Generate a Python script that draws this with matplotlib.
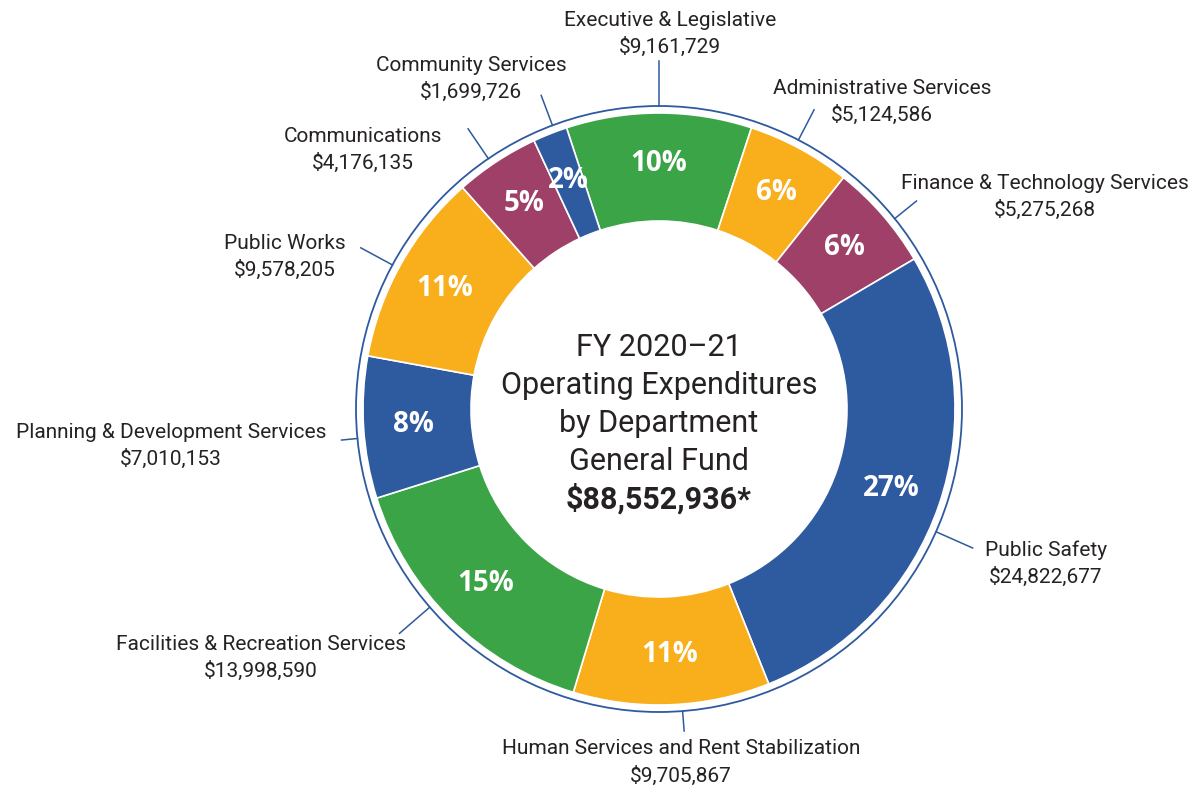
import numpy as np
import matplotlib.pyplot as plt
from matplotlib.patches import Circle

# departments in clockwise order starting at the top
departments = ['Executive & Legislative', 'Administrative Services',
               'Finance & Technology Services', 'Public Safety',
               'Human Services and Rent Stabilization',
               'Facilities & Recreation Services',
               'Planning & Development Services', 'Public Works',
               'Communications', 'Community Services']
amounts = [9161729, 5124586, 5275268, 24822677, 9705867,
           13998590, 7010153, 9578205, 4176135, 1699726]
colors = ['#3AA447', '#F9AF1B', '#9E4068', '#2E5A9F', '#F9AF1B',
          '#3AA447', '#2E5A9F', '#F9AF1B', '#9E4068', '#2E5A9F']
center_lines = ['FY 2020\u201321', 'Operating Expenditures', 'by Department',
                'General Fund']
total_label = '$88,552,936*'

# layout (pixels, y measured from top)
W, H = 1201, 789
cx, cy = 659, 409
r_out, r_in, r_ring = 296, 188, 303
label_xy = [(670, 20), (882, 88), (1045, 183), (1046, 550), (681, 749),
            (261, 644), (171, 432), (285, 243), (363, 136), (471, 65)]
leader_len = [45, 34, 28, 40, 20, 40, 16, 36, 36, 32]
leader_shift = [0, 1, -2, -5, 2, -4.5, 2, 1, 1, -1]  # degrees, ccw

blue = '#2E5A9F'
txt = '#262223'

fig = plt.figure(figsize=(W / 100, H / 100), dpi=100)
ax = fig.add_axes([0, 0, 1, 1])

start = 90 + 0.5 * amounts[0] / sum(amounts) * 360
wedges, _, autotexts = ax.pie(
    amounts, colors=colors, startangle=start, counterclock=False,
    radius=r_out, center=(cx, H - cy),
    autopct=lambda p: f'{p:.0f}%', pctdistance=246 / r_out,
    wedgeprops=dict(width=r_out - r_in, edgecolor='white', linewidth=1.2))

for t in autotexts:
    t.set_color('white')
    t.set_fontsize(20)
    t.set_fontweight('bold')
    t.set_family('Open Sans')

ax.add_patch(Circle((cx, H - cy), r_ring, fill=False, edgecolor=blue, lw=1.3))

for w, name, amt, (lx, ly), L, s in zip(wedges, departments, amounts,
                                        label_xy, leader_len, leader_shift):
    a = np.deg2rad((w.theta1 + w.theta2) / 2 + s)
    x0, y0 = cx + r_ring * np.cos(a), H - cy + r_ring * np.sin(a)
    x1, y1 = cx + (r_ring + L) * np.cos(a), H - cy + (r_ring + L) * np.sin(a)
    ax.plot([x0, x1], [y0, y1], color=blue, lw=1.1)
    ax.text(lx, H - ly, name, ha='center', va='center', fontsize=15,
            family='Roboto', color=txt)
    ax.text(lx, H - ly - 27, f'${amt:,}', ha='center', va='center',
            fontsize=15, family='Roboto', color=txt)

for i, line in enumerate(center_lines):
    ax.text(cx, H - (347 + 38 * i), line, ha='center', va='center',
            fontsize=22, family='Roboto', color=txt)
ax.text(cx, H - 499, total_label, ha='center', va='center', fontsize=22,
        family='Roboto', fontweight='bold', color=txt)

ax.set_xlim(0, W)
ax.set_ylim(0, H)
ax.set_aspect('equal')
ax.axis('off')

fig.savefig('out.png', dpi=100)
